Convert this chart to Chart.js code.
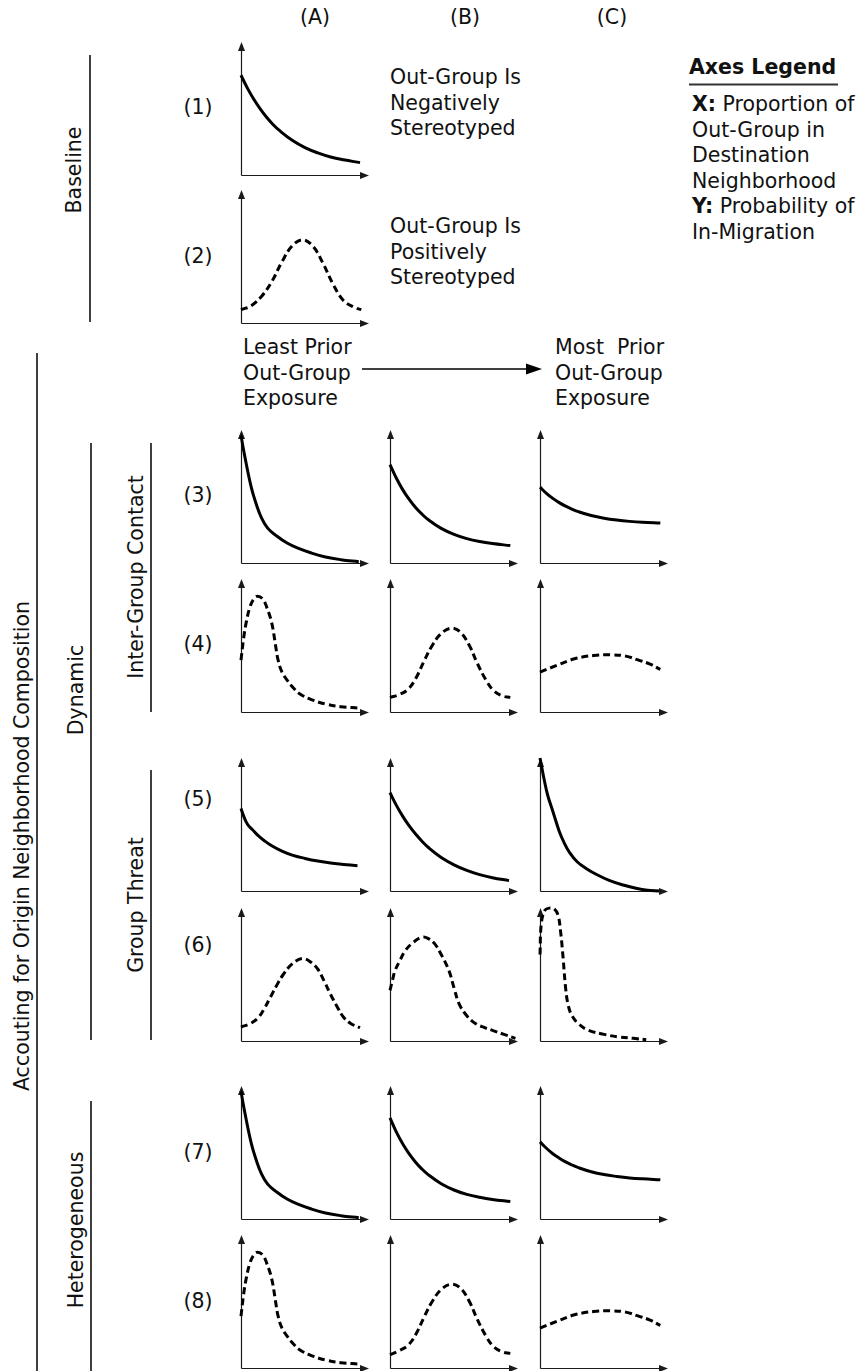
<!DOCTYPE html>
<html>
<head>
<meta charset="utf-8">
<script src="https://cdn.jsdelivr.net/npm/chart.js@4.4.1/dist/chart.umd.min.js"></script>
<style>
  html, body { margin: 0; padding: 0; background: #fff; }
  #page { position: relative; width: 862px; height: 1371px; overflow: hidden; font-family: "DejaVu Sans", sans-serif; color: #111; }
  .t { position: absolute; font-size: 20.5px; line-height: 25.5px; white-space: pre; }
  .c { transform: translate(-50%, -50%); }
  .rot { transform: translate(-50%, -50%) rotate(-90deg); }
  canvas { position: absolute; }
  svg { position: absolute; left: 0; top: 0; }
</style>
</head>
<body>
<div id="page">
  <svg width="862" height="1371" id="lines"></svg>
</div>
<script>
// ---- labels ----
const colHeads = ["(A)", "(B)", "(C)"];
const rowLabels = ["(1)", "(2)", "(3)", "(4)", "(5)", "(6)", "(7)", "(8)"];
const groupLabels = ["Baseline", "Accouting for Origin Neighborhood Composition", "Dynamic", "Inter-Group Contact", "Group Threat", "Heterogeneous"];
const stereoNeg = ["Out-Group Is", "Negatively", "Stereotyped"];
const stereoPos = ["Out-Group Is", "Positively", "Stereotyped"];
const leastPrior = ["Least Prior", "Out-Group", "Exposure"];
const mostPrior = ["Most  Prior", "Out-Group", "Exposure"];
const legendTitle = "Axes Legend";
const legendLines = [["X:", " Proportion of"], ["", "Out-Group in"], ["", "Destination"], ["", "Neighborhood"], ["Y:", " Probability of"], ["", "In-Migration"]];

// ---- curves: [x share of x-axis, y share of y-axis] ----
const r1A = [[0,0.75],[0.05,0.653],[0.1,0.569],[0.15,0.497],[0.2,0.434],[0.25,0.38],[0.3,0.335],[0.4,0.261],[0.5,0.206],[0.6,0.166],[0.7,0.135],[0.8,0.114],[0.93,0.093]];
const r2A = [[0,0.10],[0.08,0.13],[0.16,0.20],[0.24,0.31],[0.32,0.46],[0.40,0.58],[0.48,0.625],[0.56,0.58],[0.64,0.45],[0.72,0.29],[0.80,0.17],[0.88,0.12],[0.94,0.10]];

const r3A = [[0,0.96],[0.03,0.80],[0.08,0.57],[0.12,0.44],[0.16,0.34],[0.21,0.26],[0.27,0.21],[0.36,0.15],[0.45,0.11],[0.55,0.075],[0.66,0.045],[0.78,0.025],[0.92,0.01]];
const r3B = [[0,0.74],[0.05,0.637],[0.1,0.55],[0.15,0.478],[0.2,0.417],[0.25,0.367],[0.3,0.325],[0.4,0.26],[0.5,0.215],[0.6,0.183],[0.7,0.161],[0.8,0.146],[0.94,0.131]];
const r3C = [[0,0.57],[0.05,0.524],[0.1,0.486],[0.15,0.454],[0.2,0.427],[0.25,0.405],[0.3,0.386],[0.4,0.357],[0.5,0.337],[0.6,0.323],[0.7,0.313],[0.8,0.306],[0.94,0.30]];

const r4A = [[0,0.39],[0.02,0.55],[0.04,0.67],[0.07,0.79],[0.10,0.85],[0.13,0.87],[0.17,0.85],[0.20,0.79],[0.24,0.67],[0.27,0.50],[0.29,0.39],[0.32,0.30],[0.36,0.24],[0.41,0.18],[0.47,0.13],[0.56,0.09],[0.66,0.06],[0.78,0.04],[0.92,0.03]];
const r4B = [[0,0.11],[0.07,0.13],[0.14,0.17],[0.20,0.25],[0.27,0.39],[0.33,0.50],[0.40,0.59],[0.48,0.63],[0.55,0.60],[0.62,0.50],[0.68,0.37],[0.75,0.24],[0.81,0.16],[0.88,0.12],[0.94,0.11]];
const r4C = [[0,0.30],[0.13,0.35],[0.27,0.40],[0.42,0.425],[0.56,0.43],[0.67,0.42],[0.77,0.39],[0.86,0.36],[0.94,0.32]];

const r5A = [[0,0.62],[0.02,0.565],[0.04,0.52],[0.06,0.49],[0.09,0.46],[0.13,0.42],[0.18,0.38],[0.24,0.34],[0.32,0.30],[0.40,0.27],[0.50,0.245],[0.60,0.225],[0.70,0.21],[0.80,0.20],[0.91,0.19]];
const r5B = [[0,0.74],[0.05,0.644],[0.1,0.561],[0.15,0.489],[0.2,0.428],[0.25,0.374],[0.3,0.327],[0.4,0.252],[0.5,0.197],[0.6,0.155],[0.7,0.123],[0.8,0.10],[0.93,0.078]];
const r5C = [[0,1.0],[0.03,0.85],[0.06,0.72],[0.10,0.60],[0.15,0.45],[0.19,0.36],[0.23,0.29],[0.29,0.22],[0.36,0.17],[0.45,0.12],[0.54,0.08],[0.65,0.045],[0.75,0.02],[0.84,0.005],[0.93,0]];

const r6A = [[0,0.105],[0.07,0.13],[0.13,0.17],[0.18,0.24],[0.23,0.33],[0.28,0.42],[0.33,0.50],[0.40,0.58],[0.48,0.62],[0.55,0.59],[0.60,0.54],[0.65,0.45],[0.70,0.35],[0.75,0.26],[0.80,0.18],[0.86,0.13],[0.93,0.10]];
const r6B = [[0,0.38],[0.02,0.46],[0.04,0.53],[0.08,0.61],[0.12,0.68],[0.18,0.74],[0.25,0.78],[0.30,0.77],[0.35,0.73],[0.40,0.65],[0.46,0.53],[0.50,0.40],[0.54,0.28],[0.60,0.19],[0.67,0.13],[0.74,0.10],[0.80,0.08],[0.89,0.05],[0.98,0.02]];
const r6C = [[0,0.65],[0.01,0.88],[0.04,0.985],[0.08,1.0],[0.11,0.995],[0.14,0.95],[0.16,0.83],[0.18,0.63],[0.20,0.40],[0.22,0.27],[0.25,0.19],[0.30,0.13],[0.38,0.08],[0.50,0.05],[0.62,0.03],[0.73,0.02],[0.83,0.01]];

const r7A = [[0,0.96],[0.03,0.80],[0.08,0.57],[0.12,0.44],[0.16,0.34],[0.21,0.26],[0.27,0.21],[0.36,0.15],[0.45,0.11],[0.55,0.075],[0.66,0.045],[0.78,0.025],[0.92,0.01]];
const r7B = [[0,0.76],[0.05,0.653],[0.1,0.564],[0.15,0.49],[0.2,0.427],[0.25,0.375],[0.3,0.332],[0.4,0.265],[0.5,0.218],[0.6,0.185],[0.7,0.163],[0.8,0.147],[0.94,0.132]];
const r7C = [[0,0.58],[0.05,0.532],[0.1,0.491],[0.15,0.458],[0.2,0.429],[0.25,0.406],[0.3,0.386],[0.4,0.355],[0.5,0.334],[0.6,0.32],[0.7,0.309],[0.8,0.302],[0.94,0.295]];

const r8A = [[0,0.39],[0.02,0.55],[0.04,0.67],[0.07,0.79],[0.10,0.85],[0.13,0.87],[0.17,0.85],[0.20,0.79],[0.24,0.67],[0.27,0.50],[0.29,0.39],[0.32,0.30],[0.36,0.24],[0.41,0.18],[0.47,0.13],[0.56,0.09],[0.66,0.06],[0.78,0.04],[0.92,0.03]];
const r8B = [[0,0.10],[0.07,0.13],[0.14,0.17],[0.20,0.25],[0.27,0.39],[0.33,0.50],[0.40,0.59],[0.48,0.63],[0.55,0.60],[0.62,0.50],[0.68,0.37],[0.75,0.24],[0.81,0.16],[0.88,0.12],[0.94,0.11]];
const r8C = [[0,0.30],[0.13,0.35],[0.27,0.40],[0.42,0.425],[0.56,0.43],[0.67,0.42],[0.77,0.39],[0.86,0.36],[0.94,0.32]];

// panels: [row index, col index, curve, dashed]
const panels = [
  [0, 0, r1A, false], [1, 0, r2A, true],
  [2, 0, r3A, false], [2, 1, r3B, false], [2, 2, r3C, false],
  [3, 0, r4A, true],  [3, 1, r4B, true],  [3, 2, r4C, true],
  [4, 0, r5A, false], [4, 1, r5B, false], [4, 2, r5C, false],
  [5, 0, r6A, true],  [5, 1, r6B, true],  [5, 2, r6C, true],
  [6, 0, r7A, false], [6, 1, r7B, false], [6, 2, r7C, false],
  [7, 0, r8A, true],  [7, 1, r8B, true],  [7, 2, r8C, true]
];

// ---- layout ----
const colOrigin = [241, 390, 540];
const rowOrigin = [175, 323, 563, 712, 891, 1041, 1219, 1368];
const AXIS_W = 128, AXIS_H = 133;
const PAD = { left: 6, right: 8, top: 8, bottom: 6 };

const page = document.getElementById("page");

function addText(lines, left, firstCenterY, html) {
  const d = document.createElement("div");
  d.className = "t";
  d.style.left = left + "px";
  d.style.top = (firstCenterY - 12.75) + "px";
  if (html) d.innerHTML = lines; else d.textContent = lines.join("\n");
  page.appendChild(d);
  return d;
}
function addCentered(text, cx, cy, cls) {
  const d = document.createElement("div");
  d.className = "t " + cls;
  d.style.left = cx + "px";
  d.style.top = cy + "px";
  d.textContent = text;
  page.appendChild(d);
  return d;
}

// column heads and row numbers
[315, 465, 612].forEach((cx, i) => addCentered(colHeads[i], cx, 18, "c"));
[108, 257, 496, 645, 800, 946, 1153, 1302].forEach((cy, i) => addCentered(rowLabels[i], 198, cy, "c"));

// rotated group labels
addCentered(groupLabels[0], 75, 170, "rot");
addCentered(groupLabels[1], 23, 846, "rot");
addCentered(groupLabels[2], 77, 690, "rot");
addCentered(groupLabels[3], 137, 577, "rot");
addCentered(groupLabels[4], 137, 905, "rot");
addCentered(groupLabels[5], 77, 1230, "rot");

// text blocks
addText(stereoNeg, 390, 78);
addText(stereoPos, 390, 227);
addText(leastPrior, 243, 348);
addText(mostPrior, 555, 348);

const title = addText([legendTitle], 689, 68);
title.style.fontWeight = "bold";
addText(legendLines.map(l => (l[0] ? "<b>" + l[0] + "</b>" : "") + l[1]).join("<br>"), 692, 105, true);

// bracket lines and exposure arrow
const svg = document.getElementById("lines");
const seg = [
  [90, 55, 90, 322], [37, 353, 37, 1371], [91, 443, 91, 1040],
  [151, 443, 151, 712], [151, 770, 151, 1040], [91, 1101, 91, 1371],
  [689, 84.5, 838, 84.5], [362, 369, 530, 369]
];
let s = "";
seg.forEach((l, i) => {
  const w = i === 6 ? 2 : 1.5;
  const col = i === 6 ? "#333" : "#000";
  s += `<line x1="${l[0]}" y1="${l[1]}" x2="${l[2]}" y2="${l[3]}" stroke="${col}" stroke-width="${w}"/>`;
});
s += `<polygon points="542,369 526,363.5 526,374.5" fill="#000"/>`;
svg.innerHTML = s;

// ---- charts ----
const arrowAxes = {
  id: "arrowAxes",
  beforeDatasetsDraw(chart) {
    const { ctx, scales: { x, y } } = chart;
    const x0 = Math.round(x.getPixelForValue(0)) + 0.5, x1 = x.getPixelForValue(1);
    const y0 = Math.round(y.getPixelForValue(0)) + 0.5, y1 = y.getPixelForValue(1);
    ctx.save();
    ctx.strokeStyle = "#1a1a1a";
    ctx.fillStyle = "#1a1a1a";
    ctx.lineWidth = 1.2;
    ctx.beginPath();
    ctx.moveTo(x0, y0); ctx.lineTo(x1 - 6, y0);
    ctx.moveTo(x0, y0); ctx.lineTo(x0, y1 + 6);
    ctx.stroke();
    ctx.beginPath();
    ctx.moveTo(x1, y0); ctx.lineTo(x1 - 9, y0 - 3.5); ctx.lineTo(x1 - 9, y0 + 3.5); ctx.closePath();
    ctx.fill();
    ctx.beginPath();
    ctx.moveTo(x0, y1); ctx.lineTo(x0 - 3.5, y1 + 9); ctx.lineTo(x0 + 3.5, y1 + 9); ctx.closePath();
    ctx.fill();
    ctx.restore();
  }
};

panels.forEach(([r, c, curve, dashed]) => {
  const cv = document.createElement("canvas");
  const w = AXIS_W + PAD.left + PAD.right, h = AXIS_H + PAD.top + PAD.bottom;
  cv.width = w; cv.height = h;
  cv.style.width = w + "px"; cv.style.height = h + "px";
  cv.style.left = (colOrigin[c] - PAD.left) + "px";
  cv.style.top = (rowOrigin[r] - AXIS_H - PAD.top) + "px";
  page.appendChild(cv);

  new Chart(cv, {
    type: "line",
    data: {
      datasets: [{
        data: curve.map(p => ({ x: p[0], y: p[1] })),
        borderColor: "#000",
        borderWidth: 3,
        borderDash: dashed ? [7, 4] : [],
        pointRadius: 0,
        tension: 0.4,
        fill: false,
        clip: false
      }]
    },
    options: {
      responsive: false,
      animation: false,
      events: [],
      devicePixelRatio: 1,
      layout: { padding: PAD },
      plugins: { legend: { display: false }, tooltip: { enabled: false } },
      scales: {
        x: { type: "linear", min: 0, max: 1, display: false },
        y: { type: "linear", min: 0, max: 1, display: false }
      }
    },
    plugins: [arrowAxes]
  });
});
</script>
</body>
</html>
